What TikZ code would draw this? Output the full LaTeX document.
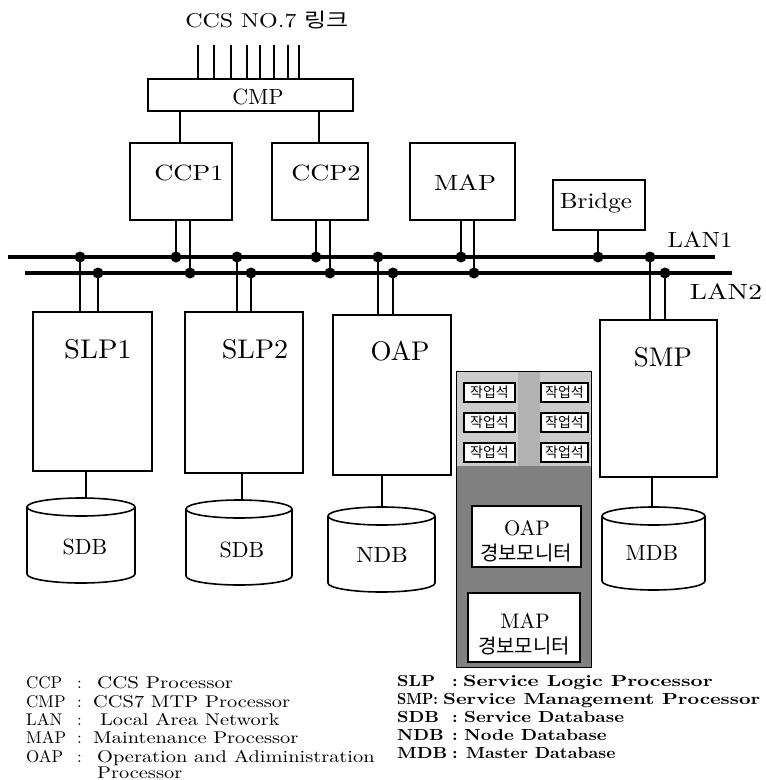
\documentclass[tikz,border=0pt]{standalone}
\usepackage{fontspec}
\setmainfont{lmroman10-regular.otf}[BoldFont=lmroman10-bold.otf, ItalicFont=lmroman10-italic.otf]
\usepackage{graphicx}
\newfontfamily\krfont{Noto Sans CJK KR}
\usetikzlibrary{fit}
\newcommand{\sx}[2][1.2]{\scalebox{#1}[1]{#2}}
\newcommand{\fs}[1]{\fontsize{#1}{#1}\selectfont}
\newcommand{\dbcyl}[5]{%
  \node[inner sep=0pt, fit={(#2,#4) (#3,#5)}] (#1) {};
  \draw[cylline] (#2,#4+9) -- (#2,#5-9) arc[start angle=180, end angle=0, x radius={(#3-#2)/2}, y radius=9] -- (#3,#4+9);
  \draw[cylline] ({(#2+#3)/2},#4+9) ellipse[x radius={(#3-#2)/2}, y radius=9];
}
\begin{document}
\begin{tikzpicture}[x=1pt,y=-1pt,
  box/.style={draw, line width=1.6pt, fill=white, inner sep=0pt},
  lan/.style={line width=3.2pt},
  conn/.style={line width=1.4pt},
  cylline/.style={line width=1.6pt},
  dot/.style={circle, fill=black, inner sep=0pt, minimum size=11pt},
  lbl/.style={inner sep=0pt, font=\fs{22}},
  big/.style={inner sep=0pt, font=\fs{27}},
  legl/.style={inner sep=0pt, anchor=base west, font=\fs{17}},
  legr/.style={inner sep=0pt, anchor=base west, font=\fs{16}\bfseries},
  ws/.style={draw, line width=1.4pt, fill=white, inner sep=0pt, font=\krfont\fs{14}},
  mon/.style={draw, line width=2.8pt, fill=white, inner sep=0pt},
]
\useasboundingbox (0,0) rectangle (766,780);

% ---------- title and CCS links ----------
\node[inner sep=0pt, font=\fs{20}] (title) at (267,20) {\sx[1.2]{CCS NO.7 {\krfont 링크}}};
\node[box, fit={(148,79) (353,111)}] (CMP) {};
\node[lbl] (tCMP) at (258,97) {CMP};
\foreach \x in {198,214,231,247,260,274,288,299} {
  \coordinate (lk\x) at (\x,45);
  \draw[conn] (lk\x) -- (lk\x |- CMP.north);
}

% ---------- upper processors ----------
\node[box, fit={(130,143) (232,220)}] (CCP1) {};
\node[lbl] (tCCP1) at (189,173) {\sx{CCP1}};
\node[box, fit={(272,143) (368,220)}] (CCP2) {};
\node[lbl] (tCCP2) at (326,173) {\sx{CCP2}};
\node[box, fit={(410,143) (515,220)}] (MAP) {};
\node[lbl] (tMAP) at (465,183) {\sx{MAP}};
\node[box, fit={(553,180) (645,230)}] (Bridge) {};
\node[lbl] (tBridge) at (596,203) {\sx[1.14]{Bridge}};

\coordinate (c1) at (180,143);
\coordinate (c2) at (319,143);
\draw[conn] (c1 |- CMP.south) -- (c1);
\draw[conn] (c2 |- CMP.south) -- (c2);

% ---------- lower processors ----------
\node[box, fit={(33,312) (152,471)}] (SLP1) {};
\node[big] (tSLP1) at (98,349) {\sx[1.06]{SLP1}};
\node[box, fit={(185,312) (303,473)}] (SLP2) {};
\node[big] (tSLP2) at (255,349) {\sx[1.04]{SLP2}};
\node[box, fit={(333,315) (451,475)}] (OAP) {};
\node[big] (tOAP) at (400,351) {OAP};
\node[box, fit={(600,320) (717,477)}] (SMP) {};
\node[big] (tSMP) at (663,357) {SMP};

% ---------- LAN buses ----------
\coordinate (lan1W) at (8,257);
\coordinate (lan1E) at (715,257);
\coordinate (lan2W) at (25,273);
\coordinate (lan2E) at (732,273);
\node[lbl] (tLAN1) at (700,240) {\sx[1.12]{LAN1}};
\node[lbl] (tLAN2) at (726,292) {\sx[1.25]{LAN2}};

\coordinate (a1) at (80,257);
\coordinate (a2) at (176,257);
\coordinate (a3) at (237,257);
\coordinate (a4) at (316,257);
\coordinate (a5) at (378,257);
\coordinate (a6) at (461,257);
\coordinate (a7) at (598,257);
\coordinate (a8) at (650,257);
\coordinate (b1) at (98,273);
\coordinate (b2) at (190,273);
\coordinate (b3) at (251,273);
\coordinate (b4) at (330,273);
\coordinate (b5) at (393,273);
\coordinate (b6) at (474,273);
\coordinate (b7) at (665,273);

\draw[conn] (a1) -- (a1 |- SLP1.north);
\draw[conn] (b1) -- (b1 |- SLP1.north);
\draw[conn] (a2) -- (a2 |- CCP1.south);
\draw[conn] (b2) -- (b2 |- CCP1.south);
\draw[conn] (a3) -- (a3 |- SLP2.north);
\draw[conn] (b3) -- (b3 |- SLP2.north);
\draw[conn] (a4) -- (a4 |- CCP2.south);
\draw[conn] (b4) -- (b4 |- CCP2.south);
\draw[conn] (a5) -- (a5 |- OAP.north);
\draw[conn] (b5) -- (b5 |- OAP.north);
\draw[conn] (a6) -- (a6 |- MAP.south);
\draw[conn] (b6) -- (b6 |- MAP.south);
\draw[conn] (a7) -- (a7 |- Bridge.south);
\draw[conn] (a8) -- (a8 |- SMP.north);
\draw[conn] (b7) -- (b7 |- SMP.north);

\draw[lan] (lan1W) -- (lan1E);
\draw[lan] (lan2W) -- (lan2E);
\foreach \d in {a1,a2,a3,a4,a5,a6,a7,a8,b1,b2,b3,b4,b5,b6,b7} {
  \node[dot] (dot\d) at (\d) {};
}

% ---------- databases ----------
\dbcyl{SDB1}{27}{135}{498}{583}
\dbcyl{SDB2}{186}{292}{500}{585}
\dbcyl{NDB}{328}{435}{507}{592}
\dbcyl{MDB}{602}{705}{507}{590}
\node[lbl] (tSDB1) at (85,547) {SDB};
\node[lbl] (tSDB2) at (242,550) {SDB};
\node[lbl] (tNDB) at (382,555) {\sx[1.05]{NDB}};
\node[lbl] (tMDB) at (652,553) {MDB};

\coordinate (d1) at (86,498);
\coordinate (d2) at (242,500);
\coordinate (d3) at (382,507);
\coordinate (d4) at (652,507);
\draw[conn] (d1 |- SLP1.south) -- (d1);
\draw[conn] (d2 |- SLP2.south) -- (d2);
\draw[conn] (d3 |- OAP.south) -- (d3);
\draw[conn] (d4 |- SMP.south) -- (d4);

% ---------- operator console panel ----------
\node[fill=black!20, inner sep=0pt, fit={(457,372) (591,667)}] (panel) {};
\fill[black!50] (457,466) rectangle (591,667);
\fill[black!30] (518,372) rectangle (540,466);
\draw[line width=1.2pt] (panel.north west) rectangle (panel.south east);

\node[ws, minimum width=51pt, minimum height=19pt] (w1) at (489.5,392.5) {작업석};
\node[ws, minimum width=47pt, minimum height=19pt] (w2) at (564.5,392.5) {작업석};
\node[ws, minimum width=51pt, minimum height=19pt] (w3) at (489.5,422.5) {작업석};
\node[ws, minimum width=47pt, minimum height=19pt] (w4) at (564.5,422.5) {작업석};
\node[ws, minimum width=51pt, minimum height=19pt] (w5) at (489.5,452.5) {작업석};
\node[ws, minimum width=47pt, minimum height=19pt] (w6) at (564.5,452.5) {작업석};

\node[mon, fit={(472,506) (581,567)}] (monOAP) {};
\node[inner sep=0pt, font=\fs{21}] (tmonOAP) at (527,528) {OAP};
\node[inner sep=0pt, font=\krfont\fs{20}] (tmonOAP2) at (526,553) {경보모니터};
\node[mon, fit={(468,593) (580,662)}] (monMAP) {};
\node[inner sep=0pt, font=\fs{21}] (tmonMAP) at (525,621) {MAP};
\node[inner sep=0pt, font=\krfont\fs{20}] (tmonMAP2) at (524,646) {경보모니터};

% ---------- legend (left) ----------
\node[legl] (l1a) at (26,688) {\makebox[51pt][l]{CCP}:};
\node[legl] (l1b) at (97,688) {\sx[1.23]{CCS Processor}};
\node[legl] (l2a) at (26,707) {\makebox[51pt][l]{CMP}:};
\node[legl] (l2b) at (93,707) {\sx[1.2]{CCS7 MTP Processor}};
\node[legl] (l3a) at (26,725) {\makebox[51pt][l]{LAN}:};
\node[legl] (l3b) at (100,725) {\sx[1.2]{Local Area Network}};
\node[legl] (l4a) at (26,743) {\makebox[51pt][l]{MAP}:};
\node[legl] (l4b) at (93,743) {\sx[1.2]{Maintenance Processor}};
\node[legl] (l5a) at (26,762) {\makebox[51pt][l]{OAP}:};
\node[legl] (l5b) at (97,762) {\sx[1.2]{Operation and Adiministration}};
\node[legl] (l6b) at (97,778) {\sx[1.2]{Processor}};

% ---------- legend (right) ----------
\node[legr] (r1a) at (397,686) {\sx[1.12]{\makebox[49pt][l]{SLP}:}};
\node[legr] (r1b) at (463,686) {\sx[1.31]{Service Logic Processor}};
\node[legr] (r2a) at (397,704) {\sx[0.9]{SMP:}};
\node[legr] (r2b) at (443,704) {\sx[1.26]{Service Management Processor}};
\node[legr] (r3a) at (397,722) {\sx[1.12]{\makebox[49pt][l]{SDB}:}};
\node[legr] (r3b) at (464,722) {\sx[1.16]{Service Database}};
\node[legr] (r4a) at (397,740) {\sx[1.12]{\makebox[49pt][l]{NDB}:}};
\node[legr] (r4b) at (464,740) {\sx[1.16]{Node Database}};
\node[legr] (r5a) at (397,758) {\sx[1.12]{\makebox[49pt][l]{MDB}:}};
\node[legr] (r5b) at (466,758) {\sx[1.09]{Master Database}};
\end{tikzpicture}
\end{document}
